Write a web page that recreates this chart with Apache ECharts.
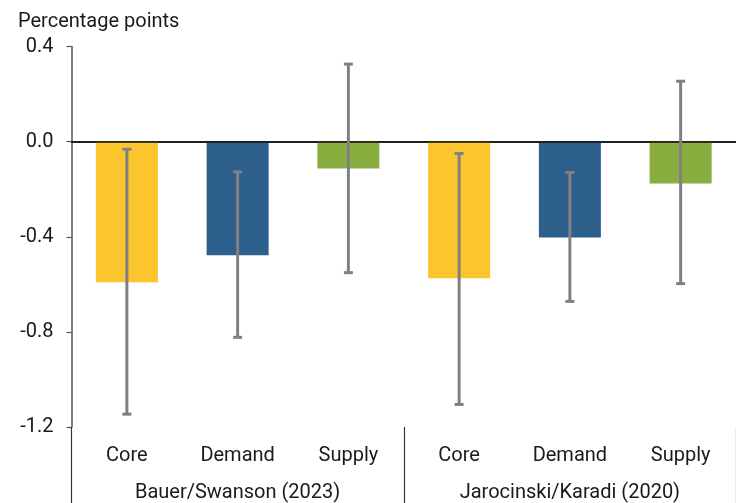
<!DOCTYPE html>
<html>
<head>
<meta charset="utf-8">
<script src="https://cdn.jsdelivr.net/npm/echarts@6/dist/echarts.min.js"></script>
<style>
  html, body { margin: 0; padding: 0; background: #fff; }
  #chart { width: 736px; height: 503px; }
</style>
</head>
<body>
<div id="chart"></div>
<script>
// Estimated effect by component, two shock identification schemes
const categories = ['Core', 'Demand', 'Supply', 'Core', 'Demand', 'Supply'];
const groups = ['Bauer/Swanson (2023)', 'Jarocinski/Karadi (2020)'];
const estimates = [-0.591, -0.478, -0.113, -0.575, -0.403, -0.176];
const lowerBounds = [-1.146, -0.823, -0.551, -1.105, -0.672, -0.597];
const upperBounds = [-0.032, -0.127, 0.326, -0.050, -0.130, 0.254];
const barColors = ['#FBC52D', '#2D5F8C', '#8AAD3F', '#FBC52D', '#2D5F8C', '#8AAD3F'];
const yTicks = { min: -1.2, max: 0.4, step: 0.4 };

const FONT = 'Roboto, "Noto Sans", sans-serif';
const FS = 20;
const chart = echarts.init(document.getElementById('chart'), null, { renderer: 'canvas' });

chart.setOption({
  animation: false,
  backgroundColor: '#ffffff',
  title: {
    text: 'Percentage points',
    left: 13, top: 7,
    textStyle: { fontFamily: FONT, fontSize: FS, fontWeight: 'normal', color: '#1a1a1a' }
  },
  grid: { left: 71.5, right: 0, top: 46.5, bottom: 76, containLabel: false },
  xAxis: [
    {
      type: 'category',
      data: categories,
      position: 'bottom',
      axisLine: { show: true, lineStyle: { color: '#111', width: 1.5 } },
      axisTick: { show: false },
      axisLabel: { margin: 19, fontFamily: FONT, fontSize: FS, color: '#1a1a1a' }
    },
    {
      type: 'category',
      data: groups,
      position: 'bottom',
      offset: 0,
      axisLine: { show: false },
      axisTick: { show: true, length: 77, lineStyle: { color: '#333', width: 1.2 } },
      axisLabel: { margin: 56, fontFamily: FONT, fontSize: FS, color: '#1a1a1a' }
    }
  ],
  yAxis: {
    type: 'value',
    min: yTicks.min, max: yTicks.max, interval: yTicks.step,
    axisLine: { show: true, lineStyle: { color: '#555', width: 1.5 } },
    axisTick: { show: true, length: 5, lineStyle: { color: '#555', width: 1.2 } },
    splitLine: { show: false },
    axisLabel: {
      margin: 18, fontFamily: FONT, fontSize: FS, color: '#1a1a1a',
      formatter: v => v.toFixed(1)
    }
  },
  series: [
    {
      type: 'bar',
      xAxisIndex: 0,
      barWidth: '56%',
      data: estimates.map((v, i) => ({ value: v, itemStyle: { color: barColors[i] } })),
      markLine: {
        silent: true,
        symbol: 'none',
        label: { show: false },
        lineStyle: { color: '#111', width: 1.5, type: 'solid' },
        data: [{ yAxis: 0 }]
      }
    },
    {
      type: 'custom',
      xAxisIndex: 0,
      z: 5,
      data: lowerBounds.map((lo, i) => [i, lo, upperBounds[i]]),
      renderItem: (params, api) => {
        const x = api.value(0);
        const lo = api.coord([x, api.value(1)]);
        const hi = api.coord([x, api.value(2)]);
        const half = 4.5;
        const style = { stroke: '#808080', lineWidth: 3 };
        return {
          type: 'group',
          children: [
            { type: 'line', shape: { x1: lo[0], y1: lo[1], x2: hi[0], y2: hi[1] }, style },
            { type: 'line', shape: { x1: lo[0] - half, y1: lo[1], x2: lo[0] + half, y2: lo[1] }, style },
            { type: 'line', shape: { x1: hi[0] - half, y1: hi[1], x2: hi[0] + half, y2: hi[1] }, style }
          ]
        };
      }
    }
  ]
});
</script>
</body>
</html>
